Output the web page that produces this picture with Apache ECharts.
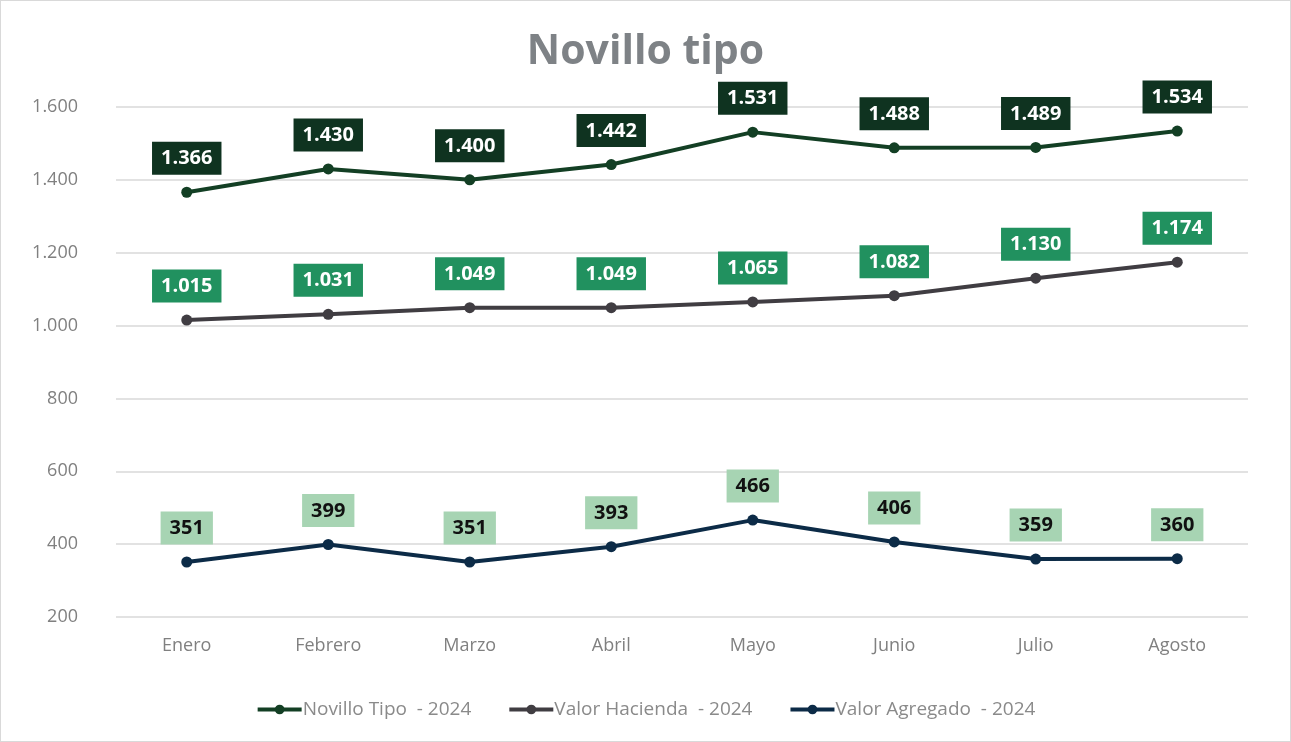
<!DOCTYPE html>
<html><head><meta charset="utf-8">
<script src="https://cdn.jsdelivr.net/npm/echarts@6/dist/echarts.min.js"></script>
<style>html,body{margin:0;padding:0;background:#fff}#c{position:absolute;left:0;top:0;width:1289px;height:740px;border:1px solid #d9d9d9}</style>
</head><body><div id="c"></div>
<script>
const categories = ['Enero','Febrero','Marzo','Abril','Mayo','Junio','Julio','Agosto'];
const novilloTipo = [1366,1430,1400,1442,1531,1488,1489,1534];
const valorHacienda = [1015,1031,1049,1049,1065,1082,1130,1174];
const valorAgregado = [351,399,351,393,466,406,359,360];
const seriesNames = ['Novillo Tipo  - 2024','Valor Hacienda  - 2024','Valor Agregado  - 2024'];
const yTicks = [200,400,600,800,1000,1200,1400,1600];

const fmt = v => v >= 1000 ? Math.floor(v/1000) + '.' + String(v%1000).padStart(3,'0') : String(v);
const chart = echarts.init(document.getElementById('c'));
function mk(name, data, lineColor, boxColor, txtColor){
  return {
    name, type:'line', data, symbol:'circle', symbolSize:11,
    lineStyle:{color:lineColor,width:4}, itemStyle:{color:lineColor},
    label:{show:true, position:'top', distance:12, formatter:p=>fmt(p.value),
      backgroundColor:boxColor, color:txtColor, fontWeight:'bold', fontSize:20,
      fontFamily:'Open Sans', padding:[6,9,5,9], lineHeight:22}
  };
}
chart.setOption({
  animation:false,
  title:{text:'Novillo tipo', left:'center', top:26, textStyle:{color:'#7e8286', fontSize:41, fontWeight:'bold', fontFamily:'Open Sans'}},
  grid:{left:115, right:42, top:106, bottom:124},
  xAxis:{type:'category', data:categories, boundaryGap:true,
    axisLine:{show:false}, axisTick:{show:false},
    axisLabel:{color:'#808080', fontSize:18, margin:20, fontFamily:'Open Sans'}},
  yAxis:{type:'value', min:200, max:1600, interval:200,
    axisLabel:{color:'#808080', fontSize:18, margin:38, formatter:v=>fmt(v), fontFamily:'Open Sans'},
    splitLine:{lineStyle:{color:'#d9d9d9', width:1.5}}},
  legend:{bottom:17, itemGap:36, itemWidth:44, itemHeight:12, lineStyle:{width:4},
    textStyle:{color:'#8a8a8a', fontSize:19, fontFamily:'Open Sans', padding:[0,0,0,-4]}, data:seriesNames},
  series:[
    mk(seriesNames[0], novilloTipo, '#133f24', '#0f3320', '#ffffff'),
    mk(seriesNames[1], valorHacienda, '#403d42', '#21915f', '#ffffff'),
    mk(seriesNames[2], valorAgregado, '#0c2b47', '#a7d4b3', '#111111')
  ]
});
</script></body></html>
